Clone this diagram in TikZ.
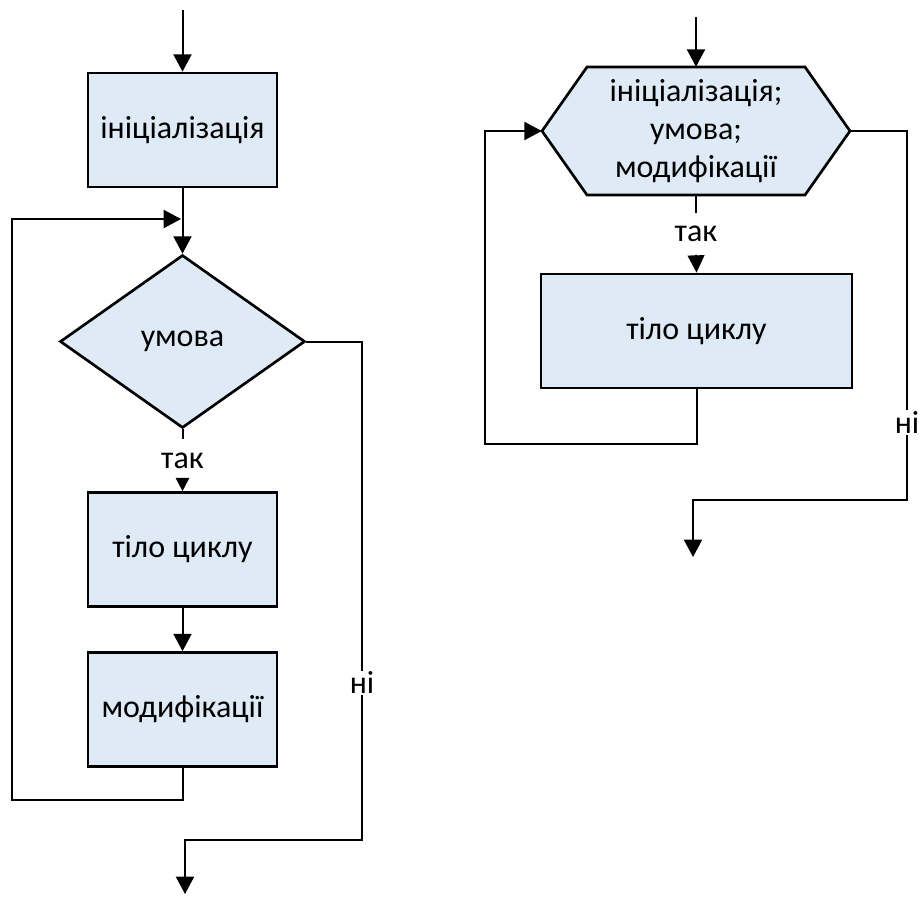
\documentclass[tikz,border=0pt]{standalone}
\usepackage{fontspec}
\setmainfont{Carlito}
\usetikzlibrary{arrows.meta,shapes.geometric}
\definecolor{boxfill}{HTML}{DEEAF6}
\tikzset{
  txt/.style={font=\fontsize{24}{28.5}\selectfont},
  box/.style={txt, draw=black, fill=boxfill, line width=2pt, inner sep=0pt,
    minimum width=189*0.75pt, minimum height=114*0.75pt},
  dia/.style={txt, diamond, draw=black, fill=boxfill, line width=2pt, inner sep=0pt,
    aspect=1.4, minimum width=245*0.75pt, minimum height=173*0.75pt},
  hexshape/.style={draw=black, fill=boxfill, line width=2pt, line join=miter},
  conn/.style={line width=1.5pt},
  arr/.style={conn, -{Triangle[length=13pt,width=13.5pt]}},
  sarr/.style={conn, -{Triangle[length=10pt,width=10pt]}},
  marr/.style={conn, -{Triangle[length=13pt,width=12.5pt]}},
  lbl/.style={txt, fill=white, inner sep=1pt},
  taklbl/.style={txt, inner sep=0pt}
}
\begin{document}
\begin{tikzpicture}[x=0.75pt,y=-0.75pt]
\useasboundingbox (0,0) rectangle (920,896);
% ---------- left flowchart ----------
\coordinate (top1) at (182.5,10);
\node[box] (init) at (182.5,130) {ініціалізація};
\node[dia] (cond) at (182.5,341.5) {умова};
\node[taklbl, minimum height=43*0.75pt] (tak1) at (182.5,460.5) {так};
\node[box] (body) at (182.5,549.5) {тіло циклу};
\node[box] (mod) at (182.5,709.5) {модифікації};
\coordinate (j1) at (181,219);
\coordinate (l1) at (12,800);
\coordinate (n1) at (362,341.5);
\coordinate (n2) at (362,840);
\coordinate (n3) at (185,840);
\coordinate (end1) at (185,894);

\draw[arr] (top1) -- (init);
\draw[arr] (init) -- (cond);
\draw[conn] (cond.south) -- (tak1.north);
\draw[sarr] (tak1.south) -- (body.north);
\draw[arr] (body) -- (mod);
\draw[arr] (mod.south) |- (l1) |- (j1);
\draw[arr] (cond.east) -- (n1) -- node[lbl,pos=0.685]{ні} (n2) -- (n3) -- (end1);

% ---------- right flowchart ----------
\path[hexshape] (542,131) -- (587,67) -- (805,67) -- (850,131) -- (805,195) -- (587,195) -- cycle;
\node[txt, inner sep=0pt, minimum width=308*0.75pt, minimum height=128*0.75pt] (hex) at (696,131)
  {\raisebox{-2pt}{\parbox{180pt}{\centering ініціалізація;\\умова;\\модифікації}}};
\coordinate (top2) at (696,17);
\node[taklbl, minimum height=41*0.75pt] (tak2) at (696,234) {так};
\node[box, minimum width=311*0.75pt] (body2) at (696.5,331) {тіло циклу};
\coordinate (l2) at (485,444);
\coordinate (r1) at (907,131);
\coordinate (r2) at (907,500);
\coordinate (r3) at (693,500);
\coordinate (end2) at (693,557);

\draw[arr] (top2) -- (hex.north);
\draw[conn] (hex.south) -- (tak2.north);
\draw[marr] (tak2.south) -- (body2.north);
\draw[arr] (body2.south) |- (l2) |- (hex.west);
\draw[arr] (hex.east) -- (r1) -- node[lbl,pos=0.79]{ні} (r2) -- (r3) -- (end2);
\end{tikzpicture}
\end{document}
